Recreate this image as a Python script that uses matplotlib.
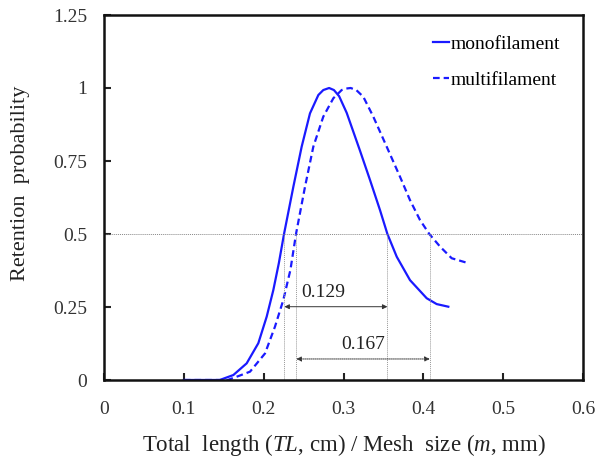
import matplotlib
matplotlib.use("Agg")
import matplotlib.pyplot as plt
from matplotlib.ticker import FixedLocator, FixedFormatter

# ---- data ----
mono_x = [0.100, 0.145, 0.162, 0.1787, 0.1933, 0.2038, 0.2121, 0.219, 0.2255, 0.2372,
          0.2476, 0.258, 0.2685, 0.2747, 0.282, 0.288, 0.2945, 0.304, 0.3207, 0.3332,
          0.3457, 0.355, 0.3667, 0.3833, 0.4042, 0.4167, 0.4313]
mono_y = [0.000, 0.000, 0.017, 0.057, 0.126, 0.217, 0.308, 0.400, 0.500, 0.662,
          0.799, 0.913, 0.976, 0.993, 1.000, 0.993, 0.972, 0.915, 0.785, 0.685,
          0.582, 0.500, 0.422, 0.342, 0.280, 0.260, 0.251]

multi_x = [0.100, 0.155, 0.166, 0.1829, 0.2017, 0.2142, 0.2246, 0.2335, 0.2405, 0.2518,
           0.2622, 0.2747, 0.2873, 0.2977, 0.303, 0.309, 0.316, 0.3248, 0.3373, 0.3541,
           0.3708, 0.3833, 0.3958, 0.4075, 0.4209, 0.4355, 0.4564]
multi_y = [0.000, 0.000, 0.011, 0.0285, 0.091, 0.183, 0.274, 0.377, 0.500, 0.662,
           0.799, 0.902, 0.965, 0.993, 0.998, 1.000, 0.993, 0.970, 0.902, 0.799,
           0.696, 0.616, 0.548, 0.500, 0.457, 0.417, 0.400]

l50_x = [0.226, 0.241]      # L50 positions (mono, multi)
u50_x = [0.355, 0.408]      # upper 50% positions
sr_labels = ["0.129", "0.167"]

x_ticks = [0, 0.1, 0.2, 0.3, 0.4, 0.5, 0.6]
x_tick_labels = ["0", "0.1", "0.2", "0.3", "0.4", "0.5", "0.6"]
y_ticks = [0, 0.25, 0.5, 0.75, 1.0, 1.25]
y_tick_labels = ["0", "0.25", "0.5", "0.75", "1", "1.25"]

plt.rcParams['font.family'] = ['Liberation Serif', 'DejaVu Serif']
plt.rcParams['mathtext.fontset'] = 'custom'
plt.rcParams['mathtext.it'] = 'Liberation Serif:italic'
plt.rcParams['mathtext.rm'] = 'Liberation Serif'

W, H = 597, 461
fig = plt.figure(figsize=(W/100, H/100), dpi=100)
ax = fig.add_axes([104/W, 1-380/H, 479/W, 365/H])

blue = '#1a1aff'
ax.plot(mono_x, mono_y, color=blue, lw=1.6, label='monofilament',
        solid_joinstyle='round')
ax.plot(multi_x, multi_y, color=blue, lw=1.6, ls=(0, (3.0, 1.8)), label='multifilament',
        dash_joinstyle='round')

ax.axhline(0.5, color='#888888', lw=0.7, ls=(0, (1, 1)))
ax.vlines(l50_x + u50_x, 0, 0.5, color='#999999', lw=0.7, ls=(0, (1, 1)))

arrow_y = [0.251, 0.072]
text_y = [0.30, 0.123]
styles = ['-', (0, (1, 1))]
for i in range(2):
    ax.annotate('', xy=(l50_x[i], arrow_y[i]), xytext=(u50_x[i], arrow_y[i]),
                arrowprops=dict(arrowstyle='<|-|>', color='#333333', lw=0.7,
                                linestyle=styles[i], mutation_scale=7,
                                shrinkA=0, shrinkB=0))
    ax.text((l50_x[i] + u50_x[i]) / 2 + (0.0 if i else -0.016), text_y[i], sr_labels[i],
            ha='center', va='center', fontsize=14, color='#222222')

ax.set_xlim(0, 0.6)
ax.set_ylim(0, 1.25)
ax.xaxis.set_major_locator(FixedLocator(x_ticks))
ax.xaxis.set_major_formatter(FixedFormatter(x_tick_labels))
ax.yaxis.set_major_locator(FixedLocator(y_ticks))
ax.yaxis.set_major_formatter(FixedFormatter(y_tick_labels))
ax.tick_params(direction='in', length=5, width=1.5, labelsize=14, colors='#222222',
               labelcolor='#333333')
ax.tick_params(axis='x', pad=15)
ax.tick_params(axis='y', pad=12)
for s in ax.spines.values():
    s.set_linewidth(1.8)
    s.set_color('#111111')

fig.text(343.5/W, 1-445/H,
         r'Total  length ($\mathit{TL}$, cm) / Mesh  size ($\mathit{m}$, mm)',
         fontsize=16.5, color='#222222', ha='center', va='center')
fig.text(21/W, 1-183/H, 'Retention  probability', fontsize=16, color='#222222',
         ha='center', va='center', rotation=90)

ax.legend(loc='upper left', bbox_to_anchor=(0.687, 0.944), frameon=False,
          fontsize=14, handlelength=0.8, handletextpad=0.1, borderpad=0,
          borderaxespad=0, labelspacing=0.92)

fig.savefig('out.png', dpi=100)
